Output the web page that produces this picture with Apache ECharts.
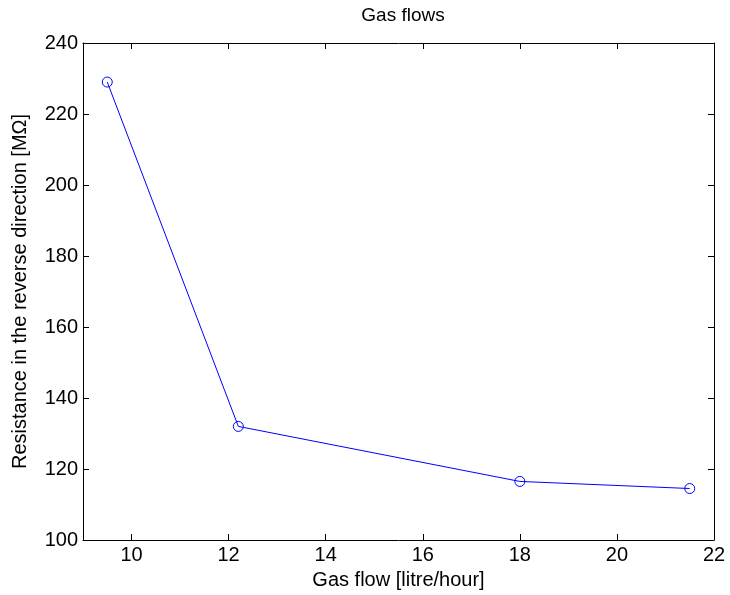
<!DOCTYPE html>
<html>
<head>
<meta charset="utf-8">
<script src="https://cdn.jsdelivr.net/npm/echarts@6/dist/echarts.min.js"></script>
<style>
  html, body { margin: 0; padding: 0; background: #fff; }
  #chart { width: 730px; height: 595px; }
</style>
</head>
<body>
<div id="chart"></div>
<script>
// gas flow (litre/hour) and resistance (MOhm)
const gasFlow = [9.5, 12.2, 18, 21.5];
const resistance = [229, 132, 116.5, 114.5];
const xTicks = [10, 12, 14, 16, 18, 20, 22];

window.addEventListener("load", function () {
    let chart = echarts.init(document.getElementById("chart"));
    let font = "Liberation Sans, Arial, sans-serif";
    let line = { show: true, lineStyle: { color: '#000', width: 1 } };

    let option = {
        backgroundColor: '#fff',
        animation: false,
        textStyle: { fontFamily: font },
        title: {
            text: 'Gas flows',
            left: 398, top: 1,
            textAlign: 'center',
            textStyle: { fontFamily: font, fontSize: 19, fontWeight: 'normal', color: '#000' }
        },
        grid: { left: 83, right: 16, top: 43, bottom: 54 },
        xAxis: [
            {
                type: 'value', min: 9, max: 22,
                name: 'Gas flow [litre/hour]', nameLocation: 'middle', nameGap: 30,
                nameTextStyle: { fontSize: 20, color: '#000' },
                axisLine: line,
                axisTick: { inside: true, length: 6, customValues: xTicks, lineStyle: { color: '#000' } },
                axisLabel: { customValues: xTicks, fontSize: 20, color: '#000', margin: 5 },
                splitLine: { show: false }
            },
            {
                type: 'value', min: 9, max: 22, position: 'top',
                axisLine: line,
                axisTick: { inside: true, length: 6, customValues: xTicks, lineStyle: { color: '#000' } },
                axisLabel: { show: false },
                splitLine: { show: false }
            }
        ],
        yAxis: [
            {
                type: 'value', min: 100, max: 240, interval: 20,
                name: 'Resistance in the reverse direction [MΩ]', nameLocation: 'middle', nameGap: 53,
                nameTextStyle: { fontSize: 20, color: '#000' },
                axisLine: line,
                axisTick: { inside: true, length: 6, lineStyle: { color: '#000' } },
                axisLabel: { fontSize: 20, color: '#000', margin: 5 },
                splitLine: { show: false }
            },
            {
                type: 'value', min: 100, max: 240, interval: 20, position: 'right',
                axisLine: line,
                axisTick: { inside: true, length: 6, lineStyle: { color: '#000' } },
                axisLabel: { show: false },
                splitLine: { show: false }
            }
        ],
        series: [
            {
                type: 'line',
                data: gasFlow.map((x, i) => [x, resistance[i]]),
                symbol: 'circle',
                symbolSize: 10,
                lineStyle: { color: '#0000ff', width: 1 },
                itemStyle: { color: 'rgba(0,0,0,0)', borderColor: '#0000ff', borderWidth: 1 }
            }
        ]
    };

    chart.setOption(option);
});
</script>
</body>
</html>
